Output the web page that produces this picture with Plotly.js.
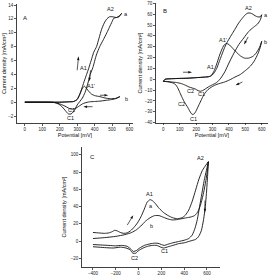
<!DOCTYPE html>
<html>
<head>
<meta charset="utf-8">
<script src="https://cdn.plot.ly/plotly-3.0.1.min.js"></script>
<style>
  html, body { margin: 0; padding: 0; background: #fff; }
  #chart { width: 271px; height: 280px; }
</style>
</head>
<body>
<div id="chart"></div>
<script>
// ---- Panel A : potential (mV) / current density (mA/cm2) ----
const potA_aFwd = [0, 50, 100, 150, 200, 250, 280, 300, 320, 340, 354, 365, 380, 395, 411, 425, 440, 455, 470, 485, 505, 525, 540, 555];
const curA_aFwd = [0, 0, 0, 0, 0, 0.05, 0.1, 0.4, 1.5, 3.0, 4.0, 4.8, 6.0, 7.2, 8.0, 9.2, 10.5, 11.4, 12.0, 12.3, 12.3, 12.2, 12.4, 12.8];
const potA_aRev = [555, 540, 525, 510, 500, 485, 470, 450, 429, 410, 390, 375, 360, 345, 330, 315, 300, 290, 278, 265, 250, 235, 215, 195, 170, 140, 100, 50, 0];
const curA_aRev = [12.8, 12.3, 12.2, 12.1, 11.6, 10.8, 10.0, 9.0, 8.0, 6.8, 5.0, 4.0, 2.6, 1.4, 0.6, 0.1, -0.4, -0.9, -1.4, -1.7, -1.7, -1.3, -0.7, -0.3, -0.05, 0, 0, 0, 0];
const potA_bFwd = [0, 100, 200, 250, 280, 300, 315, 328, 340, 350, 362, 380, 400, 430, 460, 490, 520, 545];
const curA_bFwd = [0, 0, 0, 0.05, 0.1, 0.4, 1.1, 1.9, 2.3, 2.1, 1.7, 1.2, 0.95, 0.8, 0.6, 0.5, 0.55, 0.8];
const potA_bRev = [545, 520, 490, 460, 430, 400, 370, 345, 330, 315, 300, 285, 272, 258, 240, 220, 200, 180, 160, 130, 80, 0];
const curA_bRev = [0.8, 0.5, 0.35, 0.25, 0.15, 0.1, 0.05, -0.1, -0.25, -0.5, -0.75, -0.95, -1.0, -0.95, -0.7, -0.45, -0.25, -0.1, -0.03, 0, 0, 0];

// ---- Panel B ----
const potB_aFwd = [0, 10, 50, 100, 150, 200, 250, 280, 295, 310, 325, 340, 355, 370, 385, 400, 420, 440, 460, 480, 500, 515, 530, 545, 560, 575, 590, 600];
const curB_aFwd = [-2, 0, 0.5, 0.8, 1, 1.5, 2, 2.5, 3.5, 6, 10, 16, 22, 28, 33, 37, 42, 47, 52, 56, 59.5, 61, 61, 60, 58.5, 57.5, 57.5, 59.5];
const potB_aRev = [600, 592, 575, 550, 520, 490, 460, 430, 400, 375, 350, 325, 300, 275, 255, 238, 225, 212, 195, 175, 155, 135, 110, 80, 50, 20, 0];
const curB_aRev = [59.5, 55, 51, 48, 44, 38, 32, 24, 15, 7, 1, -3, -5, -7, -9, -10.5, -11, -10.5, -9, -8, -7, -5.5, -4, -3, -2.5, -2, -2];
const potB_bFwd = [0, 10, 50, 100, 150, 200, 250, 280, 295, 310, 325, 340, 355, 370, 385, 400, 420, 445, 470, 495, 520, 545, 565, 585, 600];
const curB_bFwd = [-2, 0, 0.5, 0.8, 1, 1.5, 2, 2.5, 4, 8, 14, 21, 27, 31.5, 33, 32, 29, 25, 21.5, 19.5, 19.5, 21, 24, 29, 35];
const potB_bRev = [600, 590, 575, 555, 530, 500, 470, 436, 405, 374, 340, 313, 290, 272, 255, 241, 225, 211, 200, 190, 180, 170, 158, 145, 130, 115, 100, 88, 75, 60, 35, 10, 0];
const curB_bRev = [35, 29, 23, 17, 12, 8, 4.5, 2, -0.5, -2.5, -4, -5.5, -7.5, -9.5, -12.5, -16, -21, -25.5, -29, -31.5, -32.5, -31.5, -28.5, -25, -21.5, -17, -12, -8, -5, -3.5, -2.5, -2, -2];

// ---- Panel C ----
const potC_aFwd = [-400, -350, -300, -260, -230, -210, -190, -160, -130, -100, -70, -40, -10, 20, 50, 75, 100, 125, 150, 180, 220, 260, 300, 340, 380, 410, 440, 470, 500, 530, 560, 590, 612];
const curC_aFwd = [10, 9.5, 9, 9.5, 11, 12.5, 12, 10, 9, 9.5, 12, 16, 21, 28, 37, 45, 48, 46.5, 43, 38, 33, 29.5, 27, 26, 27, 30, 36, 46, 59, 72, 82, 88, 92];
const potC_bFwd = [-400, -300, -200, -120, -60, -20, 20, 60, 100, 140, 180, 220, 260, 300, 340, 380, 420, 460, 490, 510, 530, 550, 570, 590, 605, 612];
const curC_bFwd = [3, 4, 5.5, 7.5, 10, 13, 17.5, 23, 27, 29.5, 29.5, 27.5, 25.5, 24.5, 25, 26, 27, 28, 29.5, 32, 37, 45, 56, 70, 83, 92];
const potC_aRev = [612, 595, 575, 555, 535, 515, 495, 470, 440, 400, 350, 300, 260, 225, 200, 170, 130, 90, 50, 10, -20, -45, -70, -100, -150, -200, -260, -330, -400];
const curC_aRev = [92, 82, 70, 55, 40, 25, 15, 7, 3, 1, -0.5, -2, -3.5, -5, -4, -2.5, -2.5, -3.5, -5, -8, -11, -12, -9, -6, -5, -5.5, -5, -4.5, -4];
const potC_bRev = [612, 605, 595, 585, 570, 550, 525, 500, 450, 400, 350, 300, 260, 220, 195, 160, 120, 80, 40, 0, -25, -50, -75, -110, -160, -220, -300, -400];
const curC_bRev = [92, 75, 55, 40, 25, 12, 5, 2, 0, -2, -3, -5, -6.5, -8, -7, -5, -5, -6, -8, -11, -14, -14, -10, -8, -7, -8, -7.5, -6.5];

const FONT = 'Liberation Sans, Arial, sans-serif';
const INK = '#111';
const lineStyle = { color: INK, width: 0.9, shape: 'spline', smoothing: 0.6 };

function curve(x, y, xa, ya) {
  return { x: x, y: y, xaxis: xa, yaxis: ya, type: 'scatter', mode: 'lines',
           line: lineStyle, hoverinfo: 'skip', showlegend: false };
}

// short sweep-direction arrow: a shaft with an arrow marker at its end
function sweepArrow(x0, y0, x1, y1, xa, ya) {
  return { x: [x0, x1], y: [y0, y1], xaxis: xa, yaxis: ya, type: 'scatter',
           mode: 'lines+markers', hoverinfo: 'skip', showlegend: false,
           line: { color: INK, width: 0.7 },
           marker: { symbol: 'arrow', size: [0, 4], opacity: [0, 1], color: INK,
                     angleref: 'previous', line: { width: 0 } } };
}

const data = [
  curve(potA_aFwd, curA_aFwd, 'x', 'y'),
  curve(potA_aRev, curA_aRev, 'x', 'y'),
  curve(potA_bFwd, curA_bFwd, 'x', 'y'),
  curve(potA_bRev, curA_bRev, 'x', 'y'),
  curve(potB_aFwd, curB_aFwd, 'x2', 'y2'),
  curve(potB_aRev, curB_aRev, 'x2', 'y2'),
  curve(potB_bFwd, curB_bFwd, 'x2', 'y2'),
  curve(potB_bRev, curB_bRev, 'x2', 'y2'),
  curve(potC_aFwd, curC_aFwd, 'x3', 'y3'),
  curve(potC_bFwd, curC_bFwd, 'x3', 'y3'),
  curve(potC_aRev, curC_aRev, 'x3', 'y3'),
  curve(potC_bRev, curC_bRev, 'x3', 'y3'),
  // sweep directions, panel A
  sweepArrow(300, 4.6, 308, 6.6, 'x', 'y'),
  sweepArrow(377, 4.6, 369, 3.0, 'x', 'y'),
  sweepArrow(430, 1.0, 478, 1.0, 'x', 'y'),
  sweepArrow(388, -0.65, 335, -0.65, 'x', 'y'),
  // panel B
  sweepArrow(120, 6.5, 175, 6.5, 'x2', 'y2'),
  sweepArrow(517, 39, 492, 32, 'x2', 'y2'),
  sweepArrow(482, -2.5, 440, -5.5, 'x2', 'y2'),
  // panel C
  sweepArrow(-99, 18.6, -46, 30, 'x3', 'y3'),
  sweepArrow(582, 47, 582, 33, 'x3', 'y3')
];

const TITLE_FONT = { family: FONT, size: 5.5, color: INK };
const YT = 'Current density [mA/cm²]';

function axis(domain, range, dtick, anchor, titleText, standoff) {
  const ax = {
    domain: domain, range: range, dtick: dtick, tick0: 0, anchor: anchor,
    showline: true, linecolor: INK, linewidth: 0.8, mirror: false,
    ticks: 'outside', ticklen: 2, tickwidth: 0.7, tickcolor: INK,
    showgrid: false, zeroline: false,
    tickfont: { family: FONT, size: 4.5, color: '#222' },
    fixedrange: true
  };
  if (titleText) ax.title = { text: titleText, font: TITLE_FONT, standoff: standoff };
  return ax;
}

// label placed in data coordinates of a panel
function lbl(text, x, y, xr, yr, size) {
  return { text: text, x: x, y: y, xref: xr, yref: yr, showarrow: false,
           font: { family: FONT, size: size || 5.5, color: INK } };
}

const layout = {
  width: 271, height: 280,
  margin: { l: 0, r: 0, t: 0, b: 0 },
  paper_bgcolor: '#fff', plot_bgcolor: 'rgba(0,0,0,0)',
  showlegend: false,
  xaxis:  axis([0.0627, 0.4908], [-45, 620], 100, 'y', 'Potential [mV]', 1),
  yaxis:  axis([0.5607, 0.9846], [-3, 14.1], 2, 'x', YT, 1),
  xaxis2: axis([0.5756, 0.9889], [-45, 638], 100, 'y2', 'Potential [mV]', 1),
  yaxis2: axis([0.5618, 0.9882], [-40, 70], 10, 'x2', YT, 1),
  xaxis3: axis([0.3026, 0.8118], [-496, 714], 200, 'y3'),
  yaxis3: axis([0.0464, 0.4750], [-30, 109], 20, 'x3', YT, 3),
  annotations: [
    // panel letters
    lbl('A', 0.035, 0.93, 'x domain', 'y domain', 6),
    lbl('B', 0.045, 0.975, 'x2 domain', 'y2 domain', 6),
    lbl('C', 0.043, 0.955, 'x3 domain', 'y3 domain', 6),
    // panel A peak labels
    lbl('A2', 490, 13.4, 'x', 'y'),
    lbl('a', 580, 12.7, 'x', 'y'),
    lbl('A1', 338, 4.9, 'x', 'y'),
    lbl("A1'", 380, 2.4, 'x', 'y'),
    lbl('b', 582, 0.45, 'x', 'y'),
    lbl("C1'", 272, -1.15, 'x', 'y'),
    lbl('C1', 262, -2.3, 'x', 'y'),
    // panel B peak labels
    lbl('A2', 520, 66, 'x2', 'y2'),
    lbl('a', 625, 59, 'x2', 'y2'),
    lbl("A1'", 362, 36.5, 'x2', 'y2'),
    lbl('b', 625, 34, 'x2', 'y2'),
    lbl('A1', 288, 11, 'x2', 'y2'),
    lbl('C2', 167, -10.8, 'x2', 'y2'),
    lbl('C1', 234, -14, 'x2', 'y2'),
    lbl('C2', 110, -23, 'x2', 'y2'),
    lbl('C1', 183, -37, 'x2', 'y2'),
    // panel C peak labels
    lbl('A1', 100, 54, 'x3', 'y3'),
    lbl('a', 108, 41, 'x3', 'y3'),
    lbl('b', 115, 17, 'x3', 'y3'),
    lbl('A2', 540, 96, 'x3', 'y3'),
    lbl('C2', -32, -20, 'x3', 'y3'),
    lbl('C1', 223, -12, 'x3', 'y3')
  ]
};

Plotly.newPlot('chart', data, layout, { staticPlot: true, displayModeBar: false }).then(function (gd) {
  // the lower panel's x axis carries no title; drop its empty title node
  gd.querySelectorAll('.g-x3title').forEach(function (n) { n.remove(); });
});
</script>
</body>
</html>
